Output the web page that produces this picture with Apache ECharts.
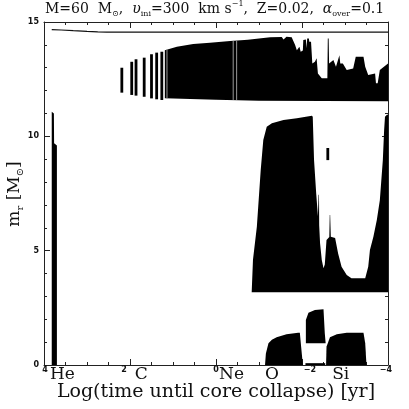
<!DOCTYPE html>
<html>
<head>
<meta charset="utf-8">
<script src="https://cdn.jsdelivr.net/npm/echarts@6/dist/echarts.min.js"></script>
<style>
  html, body { margin: 0; padding: 0; background: #fff; }
  #chart { width: 409px; height: 409px; }
</style>
</head>
<body>
<div id="chart"></div>
<script>
// x = log(time until core collapse) [yr], y = m_r [Msun]

// stellar surface (total mass)
const surfT = [3.82, 3.6, 3.32, 3.0, 2.75, 2.54, 2.0, 0, -2, -4];
const surfM = [14.67, 14.65, 14.62, 14.59, 14.57, 14.56, 14.56, 14.56, 14.56, 14.56];

// end of central He burning (convective core)
const heT = [3.82, 3.82, 3.77, 3.765, 3.70, 3.70];
const heM = [0, 11.08, 11.0, 9.7, 9.6, 0];

// convective envelope, top edge and bottom edge
const envTopT = [1.19, 0.91, 0.53, 0.14, -0.33, -0.74, -1.0, -1.26, -1.53, -1.57, -1.64, -1.76, -1.84, -1.88,
  -1.94, -1.97, -2.02, -2.03, -2.09, -2.11, -2.12, -2.16, -2.17, -2.21, -2.24, -2.30, -2.34, -2.37,
  -2.46, -2.59, -2.60, -2.62, -2.63, -2.73, -2.79, -2.87, -2.89, -2.95, -3.04, -3.19, -3.25, -3.43,
  -3.47, -3.54, -3.70, -3.72, -3.76, -3.81, -4.0];
const envTopM = [13.77, 13.92, 14.04, 14.09, 14.17, 14.22, 14.28, 14.33, 14.34, 14.24, 14.35, 14.33, 13.99, 13.77,
  13.92, 13.70, 13.75, 14.21, 14.24, 13.85, 14.28, 14.28, 14.14, 14.14, 13.19, 13.26, 13.41, 12.75,
  12.54, 12.54, 14.28, 14.28, 13.19, 13.34, 13.04, 13.55, 13.19, 13.19, 12.90, 12.97, 13.48, 13.48,
  13.04, 12.68, 12.75, 12.32, 12.32, 12.90, 13.19];
const envBotT = [1.19, 0, -1.0, -2.5, -4.0];
const envBotM = [11.66, 11.60, 11.56, 11.55, 11.53];

// thin envelope gaps
const gapT = [1.14, -0.40, -0.48];
const gapLo = [11.65, 11.59, 11.59];
const gapHi = [13.80, 14.18, 14.19];

// short convective episodes
const barT = [2.19, 1.96, 1.86, 1.67, 1.50, 1.38, 1.26, -2.60];
const barLo = [11.91, 11.81, 11.78, 11.73, 11.66, 11.62, 11.59, 8.96];
const barHi = [13.00, 13.26, 13.37, 13.44, 13.59, 13.66, 13.70, 9.49];

// big convective shell (C / Ne / O shell burning)
const shellT = [-0.83, -0.86, -0.95, -1.04, -1.10, -1.18, -1.30, -1.57, -1.88, -2.23, -2.25, -2.28, -2.33, -2.37,
  -2.385, -2.395, -2.40, -2.42, -2.46, -2.50, -2.53, -2.57, -2.635, -2.645, -2.655, -2.67, -2.77, -2.84,
  -2.92, -3.04, -3.15, -3.47, -3.54, -3.58, -3.66, -3.74, -3.81, -3.88, -3.91, -3.93, -3.97, -4.0, -4.0];
const shellM = [3.18, 4.6, 6.05, 8.53, 9.84, 10.42, 10.57, 10.71, 10.79, 10.90, 10.86, 8.96, 7.51, 6.5,
  7.45, 7.45, 6.1, 5.32, 4.59, 4.23, 4.4, 5.47, 5.6, 6.56, 6.56, 5.61, 5.55, 4.88,
  4.30, 3.94, 3.79, 3.79, 4.30, 5.03, 5.61, 6.34, 7.21, 8.96, 10.28, 10.86, 10.93, 10.95, 3.18];

// central burning: O core, shell, thin core, Si core
const oCoreT = [-1.14, -1.16, -1.22, -1.30, -1.41, -1.64, -1.91, -1.95, -1.98, -2.02];
const oCoreM = [0, 0.5, 0.95, 1.10, 1.21, 1.34, 1.41, 1.41, 0.8, 0];
const oShellT = [-2.09, -2.09, -2.15, -2.30, -2.50, -2.53, -2.55];
const oShellM = [0.95, 1.97, 2.29, 2.40, 2.44, 1.39, 0.95];
const thinT = [-2.08, -2.08, -2.54, -2.54];
const thinM = [0, 0.08, 0.08, 0];
const siCoreT = [-2.56, -2.57, -2.65, -2.81, -3.04, -3.43, -3.47, -3.50];
const siCoreM = [0, 0.80, 1.21, 1.34, 1.41, 1.41, 0.95, 0];

// burning-stage labels under the axis
const stageT = [3.57, 1.74, -0.36, -1.30, -2.90];
const stageName = ['He', 'C', 'Ne', 'O', 'Si'];

const xTickText = {'4': '4', '2': '2', '0': '0', '-2': '−2', '-4': '−4'};

function pairs(ts, ms) {
  return ts.map((t, i) => [t, ms[i]]);
}

const zonePts = [
  pairs(heT, heM),
  pairs(envTopT, envTopM).concat(pairs(envBotT, envBotM).reverse()),
  pairs(shellT, shellM),
  pairs(oCoreT, oCoreM),
  pairs(oShellT, oShellM),
  pairs(thinT, thinM),
  pairs(siCoreT, siCoreM)
];

const serif = 'DejaVu Serif';
const chart = echarts.init(document.getElementById('chart'));

const xBase = {
  type: 'value', min: -4, max: 4, interval: 2, inverse: true,
  axisLine: {onZero: false, lineStyle: {color: '#222', width: 1}},
  axisTick: {inside: true, length: 6, lineStyle: {color: '#222'}},
  minorTick: {show: true, splitNumber: 4, length: 3, lineStyle: {color: '#222'}},
  splitLine: {show: false}
};
const yBase = {
  type: 'value', min: 0, max: 15, interval: 5,
  axisLine: {show: true, onZero: false, lineStyle: {color: '#222', width: 1}},
  axisTick: {show: true, inside: true, length: 6, lineStyle: {color: '#222'}},
  minorTick: {show: true, splitNumber: 5, length: 3, lineStyle: {color: '#222'}},
  splitLine: {show: false}
};

const tickFont = {fontFamily: 'DejaVu Sans', fontWeight: 'bold', fontSize: 8, color: '#111'};

const option = {
  animation: false,
  backgroundColor: '#fff',
  title: {
    text: '{n|M=60  M}{s|⊙}{n|,  }{i|υ}{s|ini}{n|=300  km s}{p|−1}{n|,  Z=0.02,  }{i|α}{s|over}{n|=0.1}',
    left: 45, top: 0, padding: 0,
    textStyle: {
      fontWeight: 'normal',
      rich: {
        n: {fontFamily: serif, fontSize: 14, fontWeight: 'normal', color: '#111', lineHeight: 18},
        i: {fontFamily: serif, fontSize: 14, fontWeight: 'normal', fontStyle: 'italic', color: '#111', lineHeight: 18},
        s: {fontFamily: serif, fontSize: 8, fontWeight: 'normal', color: '#111', lineHeight: 8, verticalAlign: 'bottom'},
        p: {fontFamily: serif, fontSize: 8, fontWeight: 'normal', color: '#111', lineHeight: 8, verticalAlign: 'top'}
      }
    }
  },
  // y-axis title, rotated to read upwards
  graphic: [{
    type: 'text',
    x: 15, y: 194,
    rotation: Math.PI / 2,
    style: {
      text: '{n|m}{s|r}{n| [M}{s|⊙}{n|]}',
      align: 'center', verticalAlign: 'middle',
      rich: {
        n: {fontFamily: serif, fontSize: 17, fill: '#111', lineHeight: 20},
        s: {fontFamily: serif, fontSize: 10, fill: '#111', lineHeight: 10, verticalAlign: 'bottom'}
      }
    }
  }],
  grid: {left: 44, right: 21, top: 22, bottom: 44, containLabel: false, outerBoundsMode: 'none'},
  xAxis: [
    Object.assign({}, xBase, {
      position: 'bottom',
      name: 'Log(time until core collapse) [yr]',
      nameLocation: 'middle', nameGap: 18,
      nameTextStyle: {fontFamily: serif, fontSize: 19, color: '#111'},
      axisLabel: {
        show: true, margin: 1, showMinLabel: true, showMaxLabel: true,
        formatter: v => '{t' + (v < 0 ? 'm' + (-v) : v) + '|' + xTickText[String(v)] + '}',
        rich: {
          t4: Object.assign({padding: [0, 0, 0, 2]}, tickFont),
          t2: Object.assign({padding: [0, 12, 0, 0]}, tickFont),
          t0: Object.assign({}, tickFont),
          tm2: Object.assign({padding: [0, 0, 0, 16]}, tickFont),
          tm4: Object.assign({padding: [0, 4, 0, 0]}, tickFont)
        }
      }
    }),
    Object.assign({}, xBase, {position: 'top', axisLabel: {show: false}})
  ],
  yAxis: [
    Object.assign({}, yBase, {
      position: 'left',
      axisLabel: Object.assign({show: true, margin: 5}, tickFont)
    }),
    Object.assign({}, yBase, {position: 'right', axisLabel: {show: false}})
  ],
  series: [
    {
      type: 'custom',
      name: 'zones',
      clip: true,
      data: zonePts.map((z, i) => [z[0][0], z[0][1], i]),
      renderItem: (params, api) => ({
        type: 'polygon',
        shape: {points: zonePts[api.value(2)].map(p => api.coord(p))},
        style: {fill: '#000'}
      })
    },
    {
      type: 'custom',
      name: 'bars',
      clip: true,
      data: barT.map((t, i) => [t, barLo[i], barHi[i]]),
      renderItem: (params, api) => {
        const lo = api.coord([api.value(0), api.value(1)]);
        const hi = api.coord([api.value(0), api.value(2)]);
        return {type: 'rect', shape: {x: lo[0] - 1.4, y: hi[1], width: 2.8, height: lo[1] - hi[1]}, style: {fill: '#000'}};
      }
    },
    {
      type: 'custom',
      name: 'gaps',
      clip: true,
      data: gapT.map((t, i) => [t, gapLo[i], gapHi[i]]),
      renderItem: (params, api) => {
        const lo = api.coord([api.value(0), api.value(1)]);
        const hi = api.coord([api.value(0), api.value(2)]);
        return {type: 'line', shape: {x1: lo[0], y1: lo[1], x2: hi[0], y2: hi[1]}, style: {stroke: '#999', lineWidth: 1}};
      }
    },
    {
      type: 'line',
      name: 'surface',
      data: pairs(surfT, surfM),
      showSymbol: false,
      lineStyle: {color: '#111', width: 1.2}
    },
    {
      type: 'custom',
      name: 'stages',
      clip: false,
      data: stageT.map((t, i) => [t, 0, i]),
      renderItem: (params, api) => {
        const p = api.coord([api.value(0), 0]);
        return {
          type: 'text',
          style: {
            x: p[0], y: p[1] + 10, text: stageName[api.value(2)],
            fill: '#111', fontFamily: serif, fontSize: 17, align: 'center', verticalAlign: 'middle'
          }
        };
      }
    }
  ]
};

chart.setOption(option);
</script>
</body>
</html>
